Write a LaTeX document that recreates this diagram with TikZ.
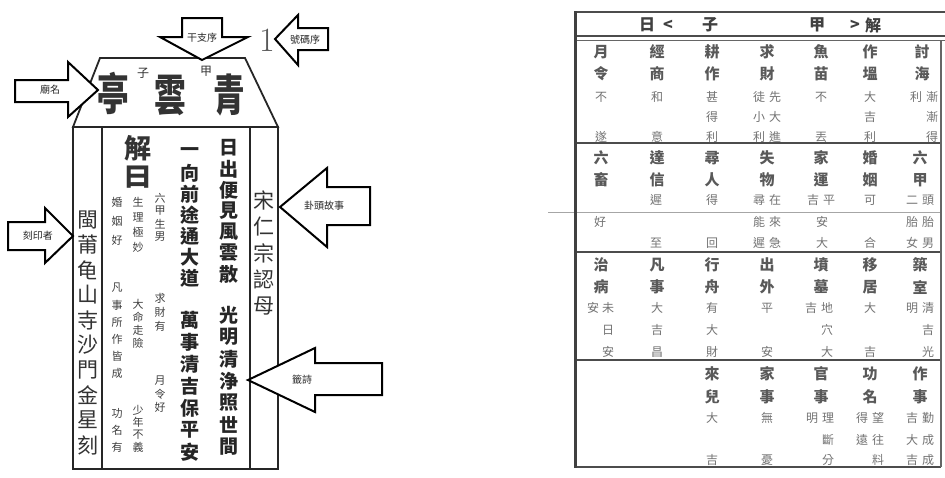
\documentclass[tikz,border=0pt]{standalone}
\usepackage{fontspec}
\newfontfamily\cjk{Noto Sans CJK TC}
\newcounter{nn}
\tikzset{
  slipline/.style={line width=1.8pt, draw=black!85, line join=miter},
  blockarrow/.style={draw=black, line width=2pt, fill=white, line join=miter},
  arrowlabel/.style={font=\cjk\fontsize{10}{10}\selectfont, inner sep=0pt, text=black!85},
  big/.style={font=\cjk\bfseries\fontsize{44}{44}\selectfont, inner sep=0pt, text=black!80},
  tiny/.style={font=\cjk\fontsize{12}{12}\selectfont, inner sep=0pt, text=black!80},
  poem/.style={font=\cjk\bfseries\fontsize{19}{19}\selectfont, inner sep=0pt, text=black!85},
  side/.style={font=\cjk\fontsize{21}{21}\selectfont, inner sep=0pt, text=black!80},
  note/.style={font=\cjk\fontsize{11}{11}\selectfont, inner sep=0pt, text=black!75},
  jie/.style={font=\cjk\bfseries\fontsize{27}{27}\selectfont, inner sep=0pt, text=black!80},
  tlab/.style={font=\cjk\bfseries\fontsize{15}{15}\selectfont, inner sep=0pt, text=black!65},
  tval/.style={font=\cjk\fontsize{12}{12}\selectfont, inner sep=0pt, text=black!55},
  thead/.style={font=\cjk\bfseries\fontsize{16}{16}\selectfont, inner sep=0pt, text=black!75},
  tabline/.style={line width=1.8pt, draw=black!70},
}
\newcommand\vcol[5]{%
  \foreach \ch [count=\k from 0] in {#5}{\stepcounter{nn}\node[#4] (n\arabic{nn}) at (#1,{#2+\k*#3}) {\ch};}}
\newcommand\tx[4]{\stepcounter{nn}\node[#1] (n\arabic{nn}) at (#2,#3) {#4};}
\newcommand\bigch[3]{\stepcounter{nn}\node[big] (n\arabic{nn}) at (#1,#2) {\scalebox{0.72}[1]{#3}};}
\begin{document}
\begin{tikzpicture}[x=1pt,y=-1pt]
\useasboundingbox (0,0) rectangle (945,477);
\fill[white] (0,0) rectangle (945,477);

% ---------- fortune slip ----------
\draw[slipline] (100,58) -- (245,58) -- (278,127) -- (73,127) -- cycle;
\draw[slipline] (73,127) rectangle (278,469);
\draw[line width=2.6pt, black!85] (73,469) -- (278,469);
\draw[slipline] (102,127) -- (102,469);
\draw[slipline] (250,127) -- (250,469);

% header
\bigch{113}{93}{亭}
\tx{tiny}{143}{73}{子}
\bigch{170}{95}{雲}
\tx{tiny}{206}{71}{甲}
\bigch{229}{95}{青}
\node[font=\fontsize{34}{34}\selectfont, inner sep=0pt, text=black!65] (num) at (267,40) {1};

% columns
\vcol{264}{200}{26.5}{side}{宋,仁,宗,認,母}
\vcol{229}{148}{21}{poem}{日,出,便,見,風,雲,散}
\vcol{229}{315}{22}{poem}{光,明,清,浄,照,世,間}
\vcol{190}{152}{21}{poem}{一,向,前,途,通,大,道}
\vcol{190}{320}{22}{poem}{萬,事,清,吉,保,平,安}
\vcol{138}{148}{29}{jie}{解,曰}
\vcol{160}{198}{13}{note}{六,甲,生,男}
\vcol{160}{298}{14}{note}{求,財,有}
\vcol{160}{381}{13}{note}{月,令,好}
\vcol{138}{202}{15}{note}{生,理,極,妙}
\vcol{138}{304}{13}{note}{大,命,走,險}
\vcol{138}{410}{12.5}{note}{少,年,不,義}
\vcol{117}{202}{19}{note}{婚,姻,好}
\vcol{117}{288}{17}{note}{凡,事,所,作,皆,成}
\vcol{117}{413}{17}{note}{功,名,有}
\vcol{88}{220}{25}{side}{閩,莆,龟,山,寺,沙,門,金,星,刻}

% annotation arrows
\draw[blockarrow] (182,18) -- (222,18) -- (222,37) -- (248,37) -- (202,60) -- (160,37) -- (182,37) -- cycle;
\node[arrowlabel] (a1) at (202,38) {干支序};
\draw[blockarrow] (275,39) -- (298,15) -- (298,28) -- (328,28) -- (328,50) -- (298,50) -- (298,65) -- cycle;
\node[arrowlabel] (a2) at (305,40) {號碼序};
\draw[blockarrow] (15,80) -- (68,80) -- (68,62) -- (98,90) -- (68,117) -- (68,102) -- (15,102) -- cycle;
\node[arrowlabel] (a3) at (50,90) {廟名};
\draw[blockarrow] (8,222) -- (45,222) -- (45,208) -- (73,236) -- (45,263) -- (45,250) -- (8,250) -- cycle;
\node[arrowlabel] (a4) at (38,236) {刻印者};
\draw[blockarrow] (280,207) -- (327,168) -- (327,187) -- (370,187) -- (370,225) -- (327,225) -- (327,247) -- cycle;
\node[arrowlabel] (a5) at (324,206) {卦頭故事};
\draw[blockarrow] (248,380) -- (315,348) -- (315,363) -- (382,363) -- (382,395) -- (315,395) -- (315,412) -- cycle;
\node[arrowlabel] (a6) at (302,380) {籤詩};

% ---------- table ----------
\draw[line width=0.6pt, black!35] (548,212) -- (941,212);
\draw[tabline] (575,12) -- (945,12);
\draw[tabline] (575,36) -- (945,36);
\draw[line width=0.8pt, black!60] (575,40) -- (945,40);
\draw[tabline] (575,143) -- (941,143);
\draw[tabline] (575,252) -- (941,252);
\draw[tabline] (575,360) -- (941,360);
\draw[tabline] (575,467) -- (941,467);
\draw[line width=3pt, black!75] (575,11) -- (575,468);
\draw[line width=1.2pt, black!60] (941,40) -- (941,467);

% header row
\tx{thead}{647}{25}{日}
\tx{thead}{668}{25}{<}
\tx{thead}{710}{25}{子}
\tx{thead}{817}{25}{甲}
\tx{thead}{855}{25}{>}
\tx{thead}{873}{25}{解}

% row 1
\vcol{601}{52}{22}{tlab}{月,令}
\vcol{657}{52}{22}{tlab}{經,商}
\vcol{712}{52}{22}{tlab}{耕,作}
\vcol{767}{52}{22}{tlab}{求,財}
\vcol{821}{52}{22}{tlab}{魚,苗}
\vcol{870}{52}{22}{tlab}{作,塭}
\vcol{922}{52}{22}{tlab}{討,海}
\tx{tval}{601}{97}{不}\tx{tval}{601}{137}{遂}
\tx{tval}{657}{97}{和}\tx{tval}{657}{137}{意}
\tx{tval}{712}{97}{甚}\tx{tval}{712}{117}{得}\tx{tval}{712}{137}{利}
\tx{tval}{759}{97}{徒}\tx{tval}{775}{97}{先}
\tx{tval}{759}{117}{小}\tx{tval}{775}{117}{大}
\tx{tval}{759}{137}{利}\tx{tval}{775}{137}{進}
\tx{tval}{821}{97}{不}\tx{tval}{821}{137}{丟}
\tx{tval}{870}{97}{大}\tx{tval}{870}{117}{吉}\tx{tval}{870}{137}{利}
\tx{tval}{916}{97}{利}\tx{tval}{932}{97}{漸}
\tx{tval}{932}{117}{漸}\tx{tval}{932}{137}{得}

% row 2
\vcol{601}{158}{22}{tlab}{六,畜}
\vcol{657}{158}{22}{tlab}{達,信}
\vcol{712}{158}{22}{tlab}{尋,人}
\vcol{767}{158}{22}{tlab}{失,物}
\vcol{821}{158}{22}{tlab}{家,運}
\vcol{870}{158}{22}{tlab}{婚,姻}
\vcol{920}{158}{22}{tlab}{六,甲}
\tx{tval}{600}{222}{好}
\tx{tval}{656}{200}{遲}\tx{tval}{656}{243}{至}
\tx{tval}{712}{200}{得}\tx{tval}{712}{243}{回}
\tx{tval}{759}{200}{尋}\tx{tval}{775}{200}{在}
\tx{tval}{759}{222}{能}\tx{tval}{775}{222}{來}
\tx{tval}{759}{243}{遲}\tx{tval}{775}{243}{急}
\tx{tval}{813}{200}{吉}\tx{tval}{829}{200}{平}
\tx{tval}{822}{222}{安}\tx{tval}{822}{243}{大}
\tx{tval}{870}{200}{可}\tx{tval}{870}{243}{合}
\tx{tval}{912}{200}{二}\tx{tval}{928}{200}{頭}
\tx{tval}{912}{222}{胎}\tx{tval}{928}{222}{胎}
\tx{tval}{912}{243}{女}\tx{tval}{928}{243}{男}

% row 3
\vcol{601}{265}{22}{tlab}{治,病}
\vcol{657}{265}{22}{tlab}{凡,事}
\vcol{712}{265}{22}{tlab}{行,舟}
\vcol{767}{265}{22}{tlab}{出,外}
\vcol{821}{265}{22}{tlab}{墳,墓}
\vcol{870}{265}{22}{tlab}{移,居}
\vcol{920}{265}{22}{tlab}{築,室}
\tx{tval}{593}{308}{安}\tx{tval}{608}{308}{未}
\tx{tval}{608}{330}{日}\tx{tval}{608}{352}{安}
\tx{tval}{657}{308}{大}\tx{tval}{657}{330}{吉}\tx{tval}{657}{352}{昌}
\tx{tval}{712}{308}{有}\tx{tval}{712}{330}{大}\tx{tval}{712}{352}{財}
\tx{tval}{767}{308}{平}\tx{tval}{767}{352}{安}
\tx{tval}{811}{308}{吉}\tx{tval}{827}{308}{地}
\tx{tval}{827}{330}{穴}\tx{tval}{827}{352}{大}
\tx{tval}{870}{308}{大}\tx{tval}{870}{352}{吉}
\tx{tval}{912}{308}{明}\tx{tval}{928}{308}{清}
\tx{tval}{928}{330}{吉}\tx{tval}{928}{352}{光}

% row 4
\vcol{712}{374}{23}{tlab}{來,兒}
\vcol{767}{374}{23}{tlab}{家,事}
\vcol{821}{374}{23}{tlab}{官,事}
\vcol{870}{374}{23}{tlab}{功,名}
\vcol{920}{374}{23}{tlab}{作,事}
\tx{tval}{712}{418}{大}\tx{tval}{712}{460}{吉}
\tx{tval}{767}{418}{無}\tx{tval}{767}{460}{憂}
\tx{tval}{812}{418}{明}\tx{tval}{828}{418}{理}
\tx{tval}{828}{440}{斷}\tx{tval}{828}{460}{分}
\tx{tval}{862}{418}{得}\tx{tval}{878}{418}{望}
\tx{tval}{862}{440}{遠}\tx{tval}{878}{440}{往}
\tx{tval}{878}{460}{料}
\tx{tval}{912}{418}{吉}\tx{tval}{928}{418}{勤}
\tx{tval}{912}{440}{大}\tx{tval}{928}{440}{成}
\tx{tval}{912}{460}{吉}\tx{tval}{928}{460}{成}
\end{tikzpicture}
\end{document}
